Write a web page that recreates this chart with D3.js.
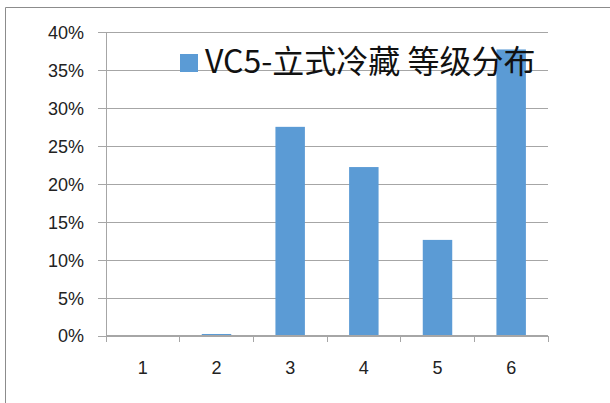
<!DOCTYPE html>
<html>
<head>
<meta charset="utf-8">
<script src="https://cdn.jsdelivr.net/npm/d3@7"></script>
<style>
  html, body { margin: 0; padding: 0; background: #fff; }
  svg { display: block; }
</style>
</head>
<body>
<svg id="chart" width="610" height="403"></svg>
<script>
// Grade categories and share of units per grade
const categories = ["1", "2", "3", "4", "5", "6"];
const shares = [0, 0.002, 0.275, 0.222, 0.126, 0.377];
const yTicks = [0, 0.05, 0.10, 0.15, 0.20, 0.25, 0.30, 0.35, 0.40];
const seriesName = "VC5-立式冷藏 等级分布";

const svg = d3.select("#chart");
const W = 610, H = 403;
const plot = { left: 106, right: 548, top: 32, bottom: 335.5 };

// Outer chart frame (top and left edges visible)
svg.append("path")
  .attr("d", `M5.5,${H} L5.5,7.5 L${W},7.5`)
  .attr("fill", "none")
  .attr("stroke", "#8c8c8c")
  .attr("stroke-width", 1);

const x = d3.scaleBand()
  .domain(categories)
  .range([plot.left, plot.right])
  .paddingInner(0.6)
  .paddingOuter(0.3);

const xCat = d3.scaleBand()
  .domain(categories)
  .range([plot.left, plot.right]);

const y = d3.scaleLinear()
  .domain([0, 0.4])
  .range([plot.bottom, plot.top]);

// Horizontal gridlines with outward tick stubs
const yAxis = d3.axisLeft(y)
  .tickValues(yTicks)
  .tickFormat(d3.format(".0%"))
  .tickSize(-(plot.right - plot.left))
  .tickPadding(15);

const gy = svg.append("g")
  .attr("transform", `translate(${plot.left},0)`)
  .call(yAxis);
gy.select(".domain").remove();
gy.selectAll(".tick line")
  .attr("x1", -8)
  .attr("stroke", "#a6a6a6")
  .attr("shape-rendering", "crispEdges");
gy.selectAll(".tick text")
  .attr("font-family", "'Liberation Sans', Arial, sans-serif")
  .attr("font-size", 18)
  .attr("fill", "#222")
  .attr("dx", -7)
  .attr("dy", "0.36em");

// Vertical axis line
svg.append("line")
  .attr("x1", plot.left).attr("x2", plot.left)
  .attr("y1", plot.top).attr("y2", plot.bottom + 6)
  .attr("stroke", "#a6a6a6")
  .attr("shape-rendering", "crispEdges");

// Bars
svg.append("g")
  .selectAll("rect")
  .data(categories.map((c, i) => ({ c, v: shares[i] })))
  .join("rect")
  .attr("x", d => x(d.c))
  .attr("width", x.bandwidth())
  .attr("y", d => y(d.v))
  .attr("height", d => y(0) - y(d.v))
  .attr("fill", "#5b9bd5");

// Category axis with ticks at category boundaries
const gx = svg.append("g")
  .attr("transform", `translate(0,${plot.bottom})`);
gx.append("line")
  .attr("x1", plot.left).attr("x2", plot.right)
  .attr("stroke", "#a6a6a6")
  .attr("shape-rendering", "crispEdges");
const bounds = categories.map(c => xCat(c)).concat([plot.right]);
gx.selectAll("line.tk")
  .data(bounds)
  .join("line")
  .attr("class", "tk")
  .attr("x1", d => d).attr("x2", d => d)
  .attr("y1", 0).attr("y2", 6)
  .attr("stroke", "#a6a6a6")
  .attr("shape-rendering", "crispEdges");
gx.selectAll("text")
  .data(categories)
  .join("text")
  .attr("x", d => xCat(d) + xCat.bandwidth() / 2)
  .attr("y", 38)
  .attr("text-anchor", "middle")
  .attr("font-family", "'Liberation Sans', Arial, sans-serif")
  .attr("font-size", 18)
  .attr("fill", "#222")
  .text(d => d);

// Legend, drawn over the plot area
const lg = svg.append("g").attr("transform", "translate(180,54)");
lg.append("rect")
  .attr("width", 18).attr("height", 18)
  .attr("fill", "#5b9bd5");
lg.append("text")
  .attr("x", 25)
  .attr("y", 19)
  .attr("font-family", "'Noto Sans CJK SC', 'Liberation Sans', sans-serif")
  .attr("font-size", 32)
  .attr("fill", "#111")
  .text(seriesName);
</script>
</body>
</html>
